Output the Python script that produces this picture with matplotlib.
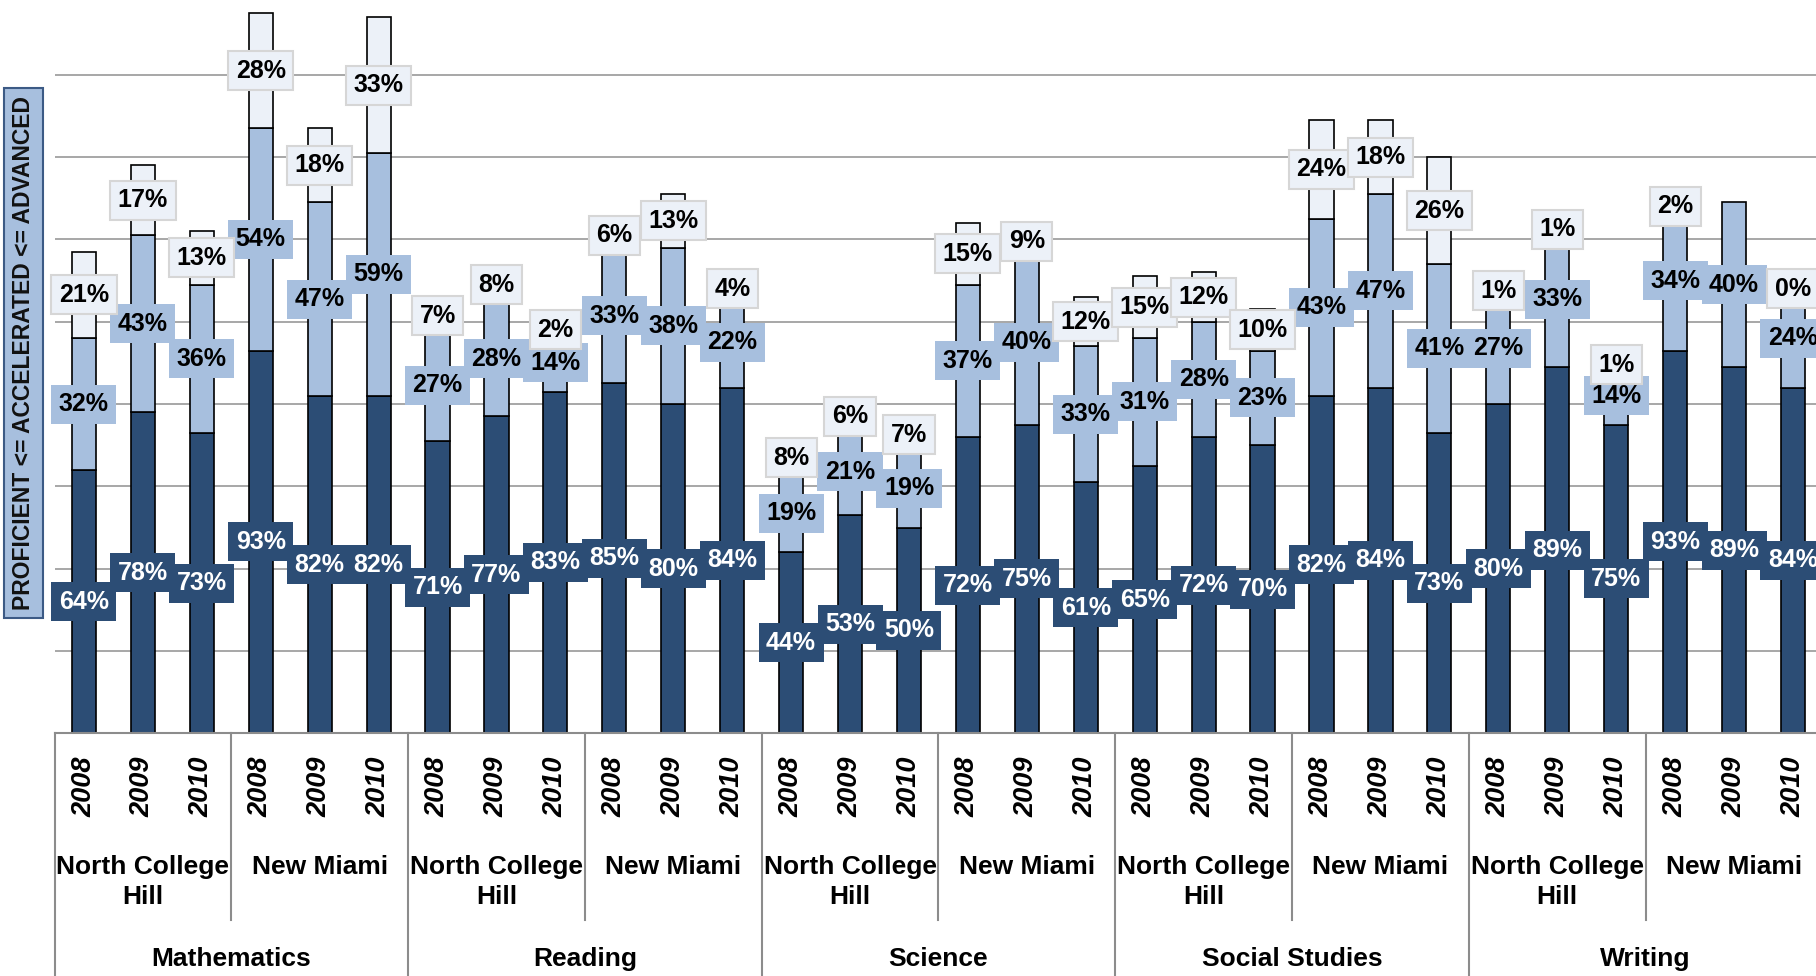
import numpy as np
import matplotlib
matplotlib.use("Agg")
import matplotlib.pyplot as plt
from matplotlib.transforms import blended_transform_factory

# data: 5 subjects x 2 schools x 3 years
SUBJECTS = ["Mathematics", "Reading", "Science", "Social Studies", "Writing"]
SCHOOLS = ["North College\nHill", "New Miami"]
YEARS = ["2008", "2009", "2010"]

proficient = [64, 78, 73, 93, 82, 82,
              71, 77, 83, 85, 80, 84,
              44, 53, 50, 72, 75, 61,
              65, 72, 70, 82, 84, 73,
              80, 89, 75, 93, 89, 84]
accelerated = [32, 43, 36, 54, 47, 59,
               27, 28, 14, 33, 38, 22,
               19, 21, 19, 37, 40, 33,
               31, 28, 23, 43, 47, 41,
               27, 33, 14, 34, 40, 24]
advanced = [21, 17, 13, 28, 18, 33,
            7, 8, 2, 6, 13, 4,
            8, 6, 7, 15, 9, 12,
            15, 12, 10, 24, 18, 26,
            1, 1, 1, 2, np.nan, 0]   # writing / new miami / 2009 has no value

Y_LABEL = "PROFICIENT <= ACCELERATED <= ADVANCED"

DARK = "#2C4D75"
MID = "#A7BFDE"
PALE = "#ECF1F8"
GRID = "#A0A0A0"
AXIS = "#8C8C8C"

W, H = 1816, 976          # output size in px
AX_L, AX_R = 54.5, 1822.4  # axis runs a bit past the right edge (cropped like the original)
Y0 = 733.3                # pixel row of the 0 line
PX_PER_PCT = 4.116

FONT = "Liberation Sans"


def fy(px):
    # pixel row from the top -> figure fraction
    return 1 - px / H


def main():
    plt.rcParams["font.family"] = [FONT, "DejaVu Sans"]

    fig = plt.figure(figsize=(W / 100, H / 100), dpi=100)
    ax = fig.add_axes([AX_L / W, fy(Y0), (AX_R - AX_L) / W, Y0 / H])

    n = len(proficient)
    x = np.arange(n)
    p = np.array(proficient, dtype=float)
    a = np.array(accelerated, dtype=float)
    d = np.array(advanced, dtype=float)

    ax.set_xlim(-0.5, n - 0.5)
    ax.set_ylim(0, Y0 / PX_PER_PCT)
    ax.set_yticks(range(20, 161, 20))
    ax.yaxis.grid(True, color=GRID, lw=1.3)
    ax.set_axisbelow(True)
    ax.tick_params(left=False, bottom=False, labelleft=False, labelbottom=False)
    for side in ["left", "right", "top"]:
        ax.spines[side].set_visible(False)
    ax.spines["bottom"].set_color(AXIS)
    ax.spines["bottom"].set_linewidth(1.5)

    bw = 0.41
    ax.bar(x, p, bw, color=DARK, edgecolor="black", lw=1.2, zorder=2)
    ax.bar(x, a, bw, bottom=p, color=MID, edgecolor="black", lw=1.2, zorder=2)
    ax.bar(x, d, bw, bottom=p + a, color=PALE, edgecolor="black", lw=1.2, zorder=2)

    # labels centred in each segment, boxed like excel data labels
    series = [
        (p, np.zeros(n), "white", dict(fc=DARK, ec=DARK, lw=0)),
        (a, p, "black", dict(fc=MID, ec=MID, lw=0)),
        (d, p + a, "black", dict(fc=PALE, ec="#D6D6D6", lw=1.5)),
    ]
    z = 5
    for vals, bottoms, tcolor, box in series:
        for i in range(n):
            if np.isnan(vals[i]):
                continue
            ax.text(x[i], bottoms[i] + vals[i] / 2, f"{int(vals[i])}%",
                    ha="center", va="center", fontsize=18, fontweight="bold",
                    color=tcolor, zorder=z, clip_on=False,
                    bbox=dict(boxstyle="square,pad=0.3", **box))
        z += 1

    # multi level category axis under the plot
    trans = blended_transform_factory(ax.transData, fig.transFigure)
    for i in range(n):
        ax.text(x[i], fy(787), YEARS[i % 3], transform=trans, rotation=90,
                ha="center", va="center", fontsize=19.5, fontweight="bold",
                fontstyle="italic")
    for g in range(n // 3):
        ax.text(3 * g + 1, fy(855), SCHOOLS[g % 2], transform=trans,
                ha="center", va="top", fontsize=19, fontweight="bold",
                linespacing=1.3)
    for s, name in enumerate(SUBJECTS):
        ax.text(6 * s + 2.5, fy(959), name, transform=trans,
                ha="center", va="center", fontsize=19, fontweight="bold")

    for b in np.arange(-0.5, n, 6):
        ax.plot([b, b], [fy(Y0), 0], transform=trans, color=AXIS, lw=1.5,
                clip_on=False)
    for b in np.arange(2.5, n, 6):
        ax.plot([b, b], [fy(Y0), fy(920)], transform=trans, color=AXIS, lw=1.5,
                clip_on=False)

    fig.text(23.5 / W, fy(353), Y_LABEL, rotation=90, ha="center", va="center",
             fontsize=16.5, fontweight="bold", color="#111111",
             bbox=dict(boxstyle="square,pad=0.33", fc=MID, ec="#3C5A85", lw=1.5))

    fig.savefig("out.png", dpi=100)


if __name__ == "__main__":
    main()
